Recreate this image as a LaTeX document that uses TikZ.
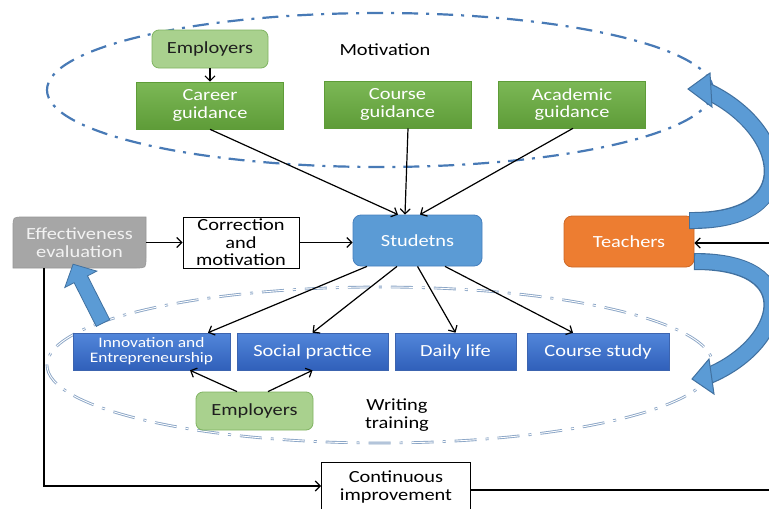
\documentclass[tikz,border=0pt]{standalone}
\usepackage{fontspec}
\setmainfont{Carlito}[FakeStretch=1.2]
\usetikzlibrary{arrows.meta,calc}
\definecolor{ellc}{RGB}{72,122,182}
\definecolor{lowc}{RGB}{138,165,198}
\definecolor{gtop}{RGB}{124,184,86}
\definecolor{gbot}{RGB}{94,156,56}
\definecolor{empf}{RGB}{169,209,142}
\definecolor{empd}{RGB}{128,180,98}
\definecolor{btop}{RGB}{82,134,218}
\definecolor{bbot}{RGB}{48,96,186}
\definecolor{bdraw}{RGB}{60,100,175}
\definecolor{stuf}{RGB}{91,155,213}
\definecolor{stud}{RGB}{70,128,190}
\definecolor{teaf}{RGB}{237,125,49}
\definecolor{tead}{RGB}{205,105,40}
\definecolor{grayf}{RGB}{166,166,166}
\definecolor{grayd}{RGB}{150,150,150}
\definecolor{barf}{RGB}{91,155,213}
\definecolor{bard}{RGB}{65,113,160}
\begin{document}
\begin{tikzpicture}[x=1pt,y=-1pt,
  txt/.style={font=\fontsize{17}{17.5}\selectfont, align=center, inner sep=0pt},
  smalltxt/.style={font=\fontsize{14.5}{15}\selectfont, align=center, inner sep=0pt},
  gbox/.style={txt, rectangle, top color=gtop, bottom color=gbot, draw=gbot, line width=0.6pt, text=white, minimum width=147pt, minimum height=47pt},
  empbox/.style={txt, rectangle, rounded corners=7pt, fill=empf, draw=empd, line width=0.8pt, text={rgb,255:red,30;green,30;blue,30}, minimum width=116pt, minimum height=38pt},
  bbox/.style={rectangle, top color=btop, bottom color=bbot, draw=bdraw, line width=0.6pt, text=white, minimum height=37pt},
  wbox/.style={txt, rectangle, draw=black, line width=0.9pt, fill=white, text=black},
  conn/.style={draw=black, line width=1.2pt, -{Straight Barb[length=5pt,width=10pt]}},
  barout/.style={draw=bard, line width=17pt},
  barin/.style={draw=barf, line width=14.6pt},
  barhead/.style={fill=barf, draw=bard, line width=1pt, line join=miter}
]
\useasboundingbox (0,0) rectangle (769,509);
\clip (0,0) rectangle (769,509);
\fill[white] (0,0) rectangle (769,509);

% ellipses
\draw[draw=lowc, double=white, double distance=0.9pt, line width=0.9pt,
      dash pattern=on 22pt off 9pt on 3pt off 9pt] (380,365) ellipse [x radius=333, y radius=78];
\draw[draw=ellc, line width=2.2pt, dash pattern=on 16pt off 8pt on 3pt off 8pt]
      (380,90) ellipse [x radius=333, y radius=77];

% top group
\node[empbox] (empt) at (210,49) {Employers};
\node[txt] (mot) at (385,50) {Motivation};
\node[gbox] (car) at (210,105.5) {Career\\guidance};
\node[gbox] (cou) at (397.5,104.5) {Course\\guidance};
\node[gbox] (aca) at (572,104.5) {Academic\\guidance};

% middle row
\fill[grayf] (13,268) -- (13,227) .. controls (13,217) .. (23,217) -- (146,217) -- (146,258) .. controls (146,268) .. (136,268) -- cycle;
\draw[grayd, line width=0.6pt] (13,268) -- (13,227) .. controls (13,217) .. (23,217) -- (146,217) -- (146,258) .. controls (146,268) .. (136,268) -- cycle;
\node[txt, text={rgb,255:red,242;green,242;blue,242}, minimum width=133pt, minimum height=51pt] (eff) at (79.5,242.5) {Effectiveness\\evaluation};
\node[wbox, minimum width=116pt, minimum height=51pt] (cor) at (241,242.5) {Correction\\and\\motivation};
\node[txt, rectangle, rounded corners=8pt, fill=stuf, draw=stud, line width=0.8pt, text=white, minimum width=129pt, minimum height=51pt] (stu) at (417.5,240.5) {Studetns};
\node[txt, rectangle, rounded corners=8pt, fill=teaf, draw=tead, line width=0.8pt, text=white, minimum width=130pt, minimum height=51pt] (tea) at (629,241.5) {Teachers};

% bottom group
\node[bbox, smalltxt, minimum width=157pt] (inn) at (151.5,351.5) {Innovation and\\Entrepreneurship};
\node[bbox, txt, minimum width=151pt] (soc) at (312.5,351.5) {Social practice};
\node[bbox, txt, minimum width=121pt] (dai) at (455.5,351.5) {Daily life};
\node[bbox, txt, minimum width=142pt] (cst) at (598,351.5) {Course study};
\node[empbox, minimum width=117pt] (empb) at (254.5,411) {Employers};
\node[txt] (wri) at (397,415) {Writing\\training};
\node[wbox, minimum width=149pt, minimum height=50pt] (ci) at (396,487) {Continuous\\improvement};

% connectors
\draw[conn] (empt.south) -- (car.north);
\draw[conn] (car.south) -- ([xshift=-19.5pt]stu.north);
\draw[conn] ([xshift=10.5pt]cou.south) -- ([xshift=-12.5pt]stu.north);
\draw[conn] ([xshift=1pt]aca.south) -- ([xshift=2.5pt]stu.north);
\draw[conn] (eff.east) -- (cor.west);
\draw[conn] (cor.east) -- (stu.west |- cor.east);
\draw[conn] ([xshift=-50.5pt]stu.south) -- ([xshift=56.5pt]inn.north);
\draw[conn] ([xshift=-20.5pt]stu.south) -- (soc.north);
\draw[conn] (stu.south) -- (dai.north);
\draw[conn] ([xshift=27.5pt]stu.south) -- ([xshift=-25pt]cst.north);
\draw[conn] ([xshift=-17.5pt]empb.north) -- ([xshift=38.5pt]inn.south);
\draw[conn] ([xshift=13.5pt]empb.north) -- (soc.south);
\coordinate (effb) at (44,486);
\coordinate (rb) at (778,490);
\coordinate (rt) at (778,243);
\draw[conn] (eff.south -| effb) -- (effb) -- (ci.west |- effb);
\draw[conn] (ci.east |- rb) -- (rb) -- (rt) -- (tea.east |- rt);

% big curved arrows
\coordinate (s1) at (689,220.5);
\coordinate (e1) at (707,91);
\draw[barout] (s1) .. controls (808,222) and (786,128) .. (e1);
\draw[barin] ([xshift=1.2pt]s1) .. controls (808,222) and (786,128) .. (e1);
\draw[barhead] (688,89) -- (710,73) -- (712,107) -- cycle;

\coordinate (s2) at (694,261.5);
\coordinate (e2) at (708,376);
\draw[barout] (s2) .. controls (808,261) and (783,345) .. (e2);
\draw[barin] ([xshift=1.2pt]s2) .. controls (808,261) and (783,345) .. (e2);
\draw[barhead] (692,379) -- (709,359) -- (714,394) -- cycle;

% straight block arrow to effectiveness evaluation
\draw[barhead, line width=0.8pt] (96.3,326.4) -- (74.1,282.7) -- (64.8,287.5) -- (73.1,264.2) -- (96.8,271.1) -- (87.5,275.9) -- (109.7,319.6) -- cycle;
\end{tikzpicture}
\end{document}
